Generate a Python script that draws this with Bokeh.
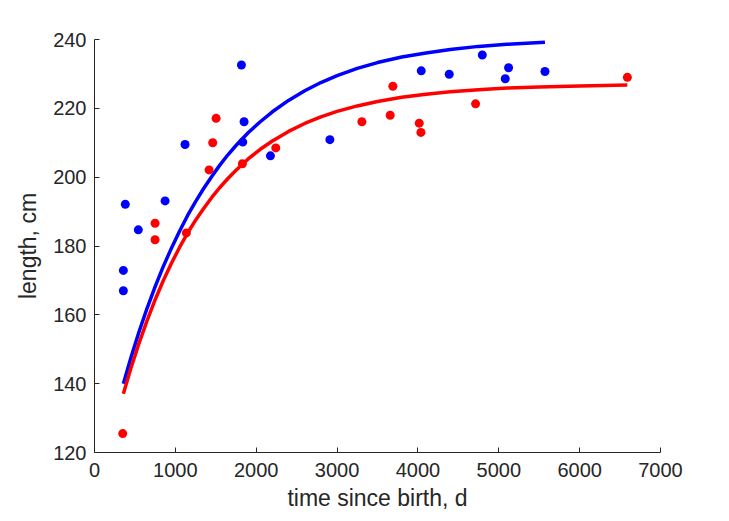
from bokeh.plotting import figure
from bokeh.models import FixedTicker, Range1d
from bokeh.embed import file_html
from bokeh.resources import INLINE

# Blue series (data points)
blue_t = [381, 357, 357, 542, 873, 1120, 1817, 1850, 1834, 2176, 2911,
          4041, 4387, 4796, 5121, 5080, 5571]
blue_len = [192.1, 172.9, 167.0, 184.7, 193.1, 209.5, 232.6, 216.1, 210.2, 206.2, 210.9,
            230.9, 229.9, 235.5, 231.8, 228.6, 230.7]

# Red series (data points)
red_t = [349, 749, 749, 1136, 1417, 1462, 1504, 1829, 2242, 3307, 3657, 3690,
         4016, 4037, 4713, 6590]
red_len = [125.5, 186.6, 181.8, 183.8, 202.1, 210.0, 217.1, 203.9, 208.5, 216.1, 218.0, 226.4,
           215.7, 213.0, 221.3, 229.0]

# Fitted curves
blue_fit_t = [357, 450, 550, 650, 750, 850, 950, 1050, 1150, 1250, 1350, 1450, 1550, 1650,
              1750, 1900, 2050, 2200, 2400, 2600, 2800, 3000, 3250, 3500, 3800, 4100, 4400,
              4750, 5100, 5571]
blue_fit_len = [140.0, 147.5, 155.0, 161.9, 168.2, 174.0, 179.3, 184.2, 188.8, 192.9, 196.7,
                200.2, 203.5, 206.5, 209.2, 212.9, 216.1, 219.0, 222.3, 225.1, 227.5, 229.5,
                231.6, 233.3, 234.9, 236.1, 237.1, 238.0, 238.6, 239.2]
red_fit_t = [357, 450, 550, 650, 750, 850, 950, 1050, 1150, 1250, 1350, 1450, 1550, 1650,
             1750, 1900, 2050, 2200, 2400, 2600, 2800, 3000, 3250, 3500, 3800, 4100, 4400,
             4750, 5100, 5500, 6000, 6590]
red_fit_len = [137.1, 144.5, 151.7, 158.3, 164.4, 169.9, 174.9, 179.5, 183.7, 187.5, 190.9,
               194.1, 197.0, 199.6, 202.0, 205.3, 208.1, 210.5, 213.3, 215.6, 217.5, 219.1,
               220.7, 222.0, 223.2, 224.1, 224.8, 225.4, 225.9, 226.2, 226.5, 226.8]

x_ticks = [0, 1000, 2000, 3000, 4000, 5000, 6000, 7000]
y_ticks = [120, 140, 160, 180, 200, 220, 240]

p = figure(width=721, height=513, output_backend="svg", toolbar_location=None,
           x_range=Range1d(0, 7000), y_range=Range1d(120, 240),
           min_border_left=94, min_border_right=61, min_border_top=39, min_border_bottom=60)
p.outline_line_color = None
p.grid.visible = False
p.background_fill_color = "white"
p.border_fill_color = "white"

p.line(blue_fit_t, blue_fit_len, line_color="#0000ff", line_width=3.5, line_join="round")
p.line(red_fit_t, red_fit_len, line_color="#ff0000", line_width=3.5, line_join="round")
p.scatter(blue_t, blue_len, size=9, fill_color="#0000ff", line_color=None)
p.scatter(red_t, red_len, size=9, fill_color="#ff0000", line_color=None)

for ax in (p.xaxis[0], p.yaxis[0]):
    ax.axis_line_color = "#262626"
    ax.axis_line_width = 1
    ax.major_tick_line_color = "#262626"
    ax.major_tick_in = 5
    ax.major_tick_out = 0
    ax.minor_tick_line_color = None
    ax.major_label_text_font = "Liberation Sans"
    ax.major_label_text_font_size = "20px"
    ax.major_label_text_color = "#262626"
    ax.axis_label_text_font = "Liberation Sans"
    ax.axis_label_text_font_size = "23px"
    ax.axis_label_text_font_style = "normal"
    ax.axis_label_text_color = "#262626"

p.xaxis.ticker = FixedTicker(ticks=x_ticks)
p.yaxis.ticker = FixedTicker(ticks=y_ticks)
p.xaxis.axis_label = "time since birth, d"
p.yaxis.axis_label = "length, cm"
p.xaxis.major_label_standoff = 10
p.yaxis.major_label_standoff = 8
p.xaxis.axis_label_standoff = 5
p.yaxis.axis_label_standoff = 9

open("out.html", "w").write(file_html(p, INLINE))
